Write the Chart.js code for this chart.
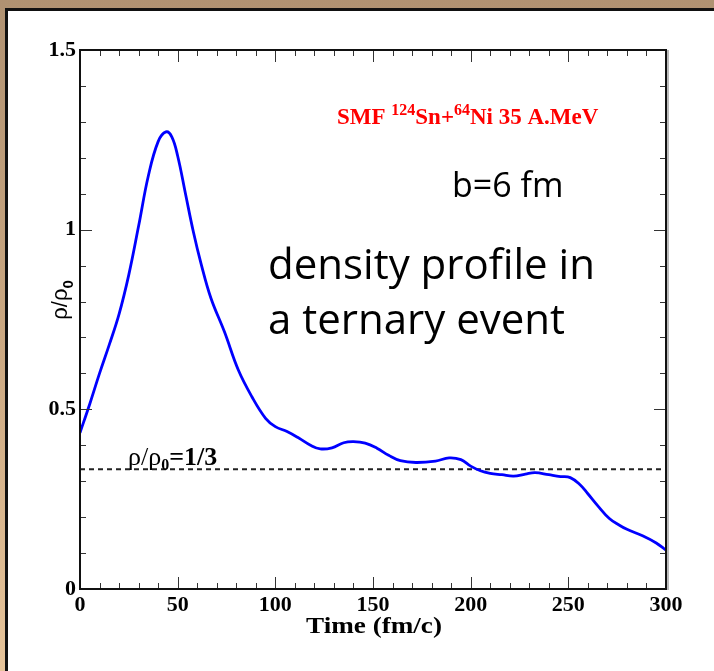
<!DOCTYPE html>
<html>
<head>
<meta charset="utf-8">
<script src="https://cdn.jsdelivr.net/npm/chart.js@4"></script>
<style>
  html, body { margin: 0; padding: 0; }
  body {
    width: 714px; height: 671px; overflow: hidden; position: relative;
    background: linear-gradient(to bottom, #b09272 0%, #caa882 50%, #e6c49a 100%);
  }
  #panel {
    position: absolute; left: 5px; top: 8px; width: 720px; height: 680px;
    background: #fff; border-left: 3px solid #111; border-top: 3px solid #111;
  }
  #wrap { position: absolute; left: 0; top: 0; width: 714px; height: 671px; }
</style>
</head>
<body>
<div id="panel"></div>
<div id="wrap"><canvas id="densityChart" width="714" height="671"></canvas></div>
<script>
const times = [0, 5, 10, 15, 20, 25, 30, 35, 40, 44, 47, 50, 54, 58, 62, 67, 74, 81, 88, 95, 100,
  106, 112, 118, 123, 129, 135, 140, 146, 152, 158, 164, 172, 182, 189, 195, 200, 205, 210,
  216, 222, 228, 233, 240, 246, 251, 256, 260, 265, 271, 276, 280, 288, 295, 300];
const density = [0.435, 0.515, 0.60, 0.68, 0.765, 0.875, 1.01, 1.15, 1.245, 1.272, 1.258, 1.205,
  1.10, 0.995, 0.905, 0.81, 0.715, 0.61, 0.535, 0.475, 0.452, 0.438, 0.42, 0.40, 0.39, 0.393, 0.407,
  0.41, 0.406, 0.392, 0.372, 0.357, 0.352, 0.356, 0.365, 0.36, 0.342, 0.329, 0.322, 0.318,
  0.314, 0.32, 0.324, 0.318, 0.313, 0.31, 0.29, 0.265, 0.232, 0.196, 0.178, 0.166, 0.148,
  0.128, 0.108];
const thresholdX = [0, 300];
const thresholdY = [1 / 3, 1 / 3];
const xTicks = [0, 50, 100, 150, 200, 250, 300];
const yTicks = [0, 0.5, 1, 1.5];

const tickFont = { family: '"Liberation Serif", "DejaVu Serif", serif', size: 22, weight: 'bold' };

// inward ticks, frame and all the annotation text
const decorations = {
    id: 'decorations',
    afterDraw(chart) {
        const c = chart.ctx;
        const a = chart.chartArea;
        const xs = chart.scales.x, ys = chart.scales.y;
        c.save();
        c.strokeStyle = '#333';
        c.lineWidth = 1;
        for (let t = 0; t <= 300; t += 10) {
            const px = Math.round(xs.getPixelForValue(t)) + 0.5;
            const len = t % 50 === 0 ? 12 : 6;
            c.beginPath();
            c.moveTo(px, a.bottom); c.lineTo(px, a.bottom - len);
            c.moveTo(px, a.top); c.lineTo(px, a.top + len);
            c.stroke();
        }
        for (let i = 0; i <= 15; i++) {
            const v = i / 10;
            const py = Math.round(ys.getPixelForValue(v)) + 0.5;
            const len = i % 5 === 0 ? 12 : 6;
            c.beginPath();
            c.moveTo(a.left, py); c.lineTo(a.left + len, py);
            c.moveTo(a.right, py); c.lineTo(a.right - len, py);
            c.stroke();
        }
        c.strokeStyle = '#111';
        c.lineWidth = 2;
        c.strokeRect(a.left, a.top, a.right - a.left, a.bottom - a.top);
        c.lineWidth = 1;
        c.strokeStyle = '#777';
        c.beginPath(); c.moveTo(a.right + 2, a.top); c.lineTo(a.right + 2, a.bottom + 1); c.stroke();

        // axis titles
        c.fillStyle = '#000';
        c.save();
        c.translate((a.left + a.right) / 2 + 1, 633);
        c.scale(1.18, 1);
        c.font = 'bold 23px "Liberation Serif", serif';
        c.textAlign = 'center';
        c.textBaseline = 'alphabetic';
        c.fillText('Time (fm/c)', 0, 0);
        c.restore();

        c.save();
        c.translate(67, 300);
        c.rotate(-Math.PI / 2);
        c.textAlign = 'left';
        const main = 'ρ/ρ';
        c.font = '22px "Liberation Sans", sans-serif';
        const w1 = c.measureText(main).width;
        c.font = 'bold 15px "Liberation Sans", sans-serif';
        const w2 = c.measureText('0').width;
        const sx = -(w1 + w2) / 2;
        c.font = '22px "Liberation Sans", sans-serif';
        c.fillText(main, sx, 0);
        c.font = 'bold 15px "Liberation Sans", sans-serif';
        c.fillText('0', sx + w1, 6);
        c.restore();

        // threshold label
        c.textAlign = 'left';
        c.font = '26px "Liberation Serif", serif';
        let x = 128;
        c.fillText('ρ/ρ', x, 465);
        x += c.measureText('ρ/ρ').width;
        c.font = 'bold 16px "Liberation Serif", serif';
        c.fillText('0', x, 470);
        x += c.measureText('0').width;
        c.font = 'bold 26px "Liberation Serif", serif';
        c.fillText('=1/3', x, 465);

        // red reaction label
        c.fillStyle = '#ff0000';
        const parts = [['SMF ', 23, 0], ['124', 16, -9], ['Sn+', 23, 0], ['64', 16, -9], ['Ni 35 A.MeV', 23, 0]];
        x = 337;
        for (const [txt, size, dy] of parts) {
            c.font = 'bold ' + size + 'px "Liberation Serif", serif';
            c.fillText(txt, x, 124 + dy);
            x += c.measureText(txt).width;
        }

        // slide text
        c.fillStyle = '#000';
        c.font = '34px "Open Sans", "Liberation Sans", sans-serif';
        c.fillText('b=6 fm', 452, 197);
        c.font = '42px "Open Sans", "Liberation Sans", sans-serif';
        c.fillText('density profile in', 268, 279);
        c.fillText('a ternary event', 268, 334);
        c.restore();
    }
};

const ctx = document.getElementById('densityChart').getContext('2d');
new Chart(ctx, {
    type: 'line',
    data: {
        datasets: [{
            data: times.map((t, i) => ({ x: t, y: density[i] })),
            borderColor: '#0000ff',
            borderWidth: 2.8,
            pointRadius: 0,
            tension: 0.4,
            fill: false
        }, {
            data: thresholdX.map((t, i) => ({ x: t, y: thresholdY[i] })),
            borderColor: '#222',
            borderWidth: 2,
            borderDash: [5, 4],
            pointRadius: 0,
            fill: false
        }]
    },
    options: {
        responsive: false,
        animation: false,
        layout: { padding: { left: 0, top: 50, right: 48, bottom: 0 } },
        plugins: { legend: { display: false }, tooltip: { enabled: false } },
        scales: {
            x: {
                type: 'linear', min: 0, max: 300,
                afterFit(scale) { scale.height = 82; },
                afterBuildTicks(scale) { scale.ticks = xTicks.map(v => ({ value: v })); },
                grid: { display: false, drawTicks: false },
                border: { display: false },
                ticks: { color: '#000', font: tickFont, padding: 3, maxRotation: 0 }
            },
            y: {
                type: 'linear', min: 0, max: 1.5,
                afterFit(scale) { scale.width = 80; },
                afterBuildTicks(scale) { scale.ticks = yTicks.map(v => ({ value: v })); },
                grid: { display: false, drawTicks: false },
                border: { display: false },
                ticks: { color: '#000', font: tickFont, padding: 4, callback: v => String(v) }
            }
        }
    },
    plugins: [decorations]
});
</script>
</body>
</html>
